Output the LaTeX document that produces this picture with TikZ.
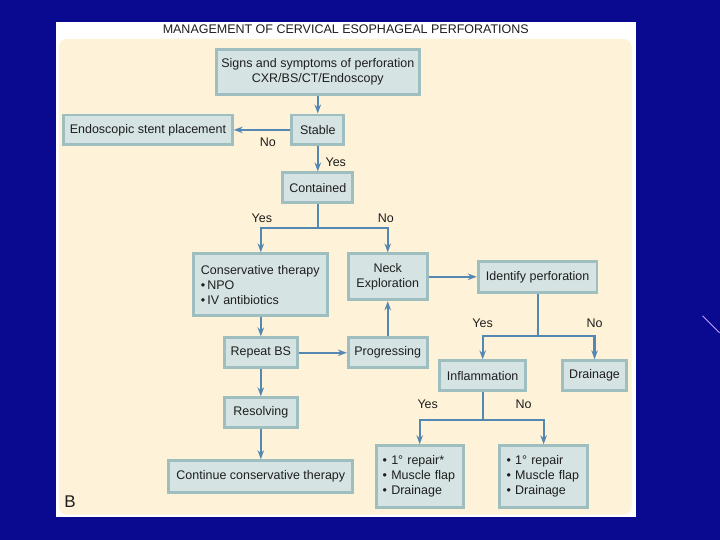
\documentclass[tikz,border=0pt]{standalone}
\usepackage{fontspec}
\setmainfont{Liberation Sans}
\usetikzlibrary{arrows.meta}

\definecolor{slideblue}{RGB}{10,10,145}
\definecolor{cream}{RGB}{254,242,216}
\definecolor{boxfill}{RGB}{214,227,227}
\definecolor{boxedge}{RGB}{158,190,191}
\definecolor{flow}{RGB}{84,136,178}
\definecolor{ink}{RGB}{30,30,30}
\definecolor{streak}{RGB}{200,160,255}

\begin{document}
\begin{tikzpicture}[x=1pt,y=1pt]
    \tikzstyle{every node}+=[font=\fontsize{12.5}{15}\selectfont, text=ink]
    \tikzstyle{box}=[draw=boxedge, line width=2.8pt, fill=boxfill, inner sep=2pt]
    \tikzstyle{flowline}=[draw=flow, line width=2.2pt]
    \tikzstyle{flowarrow}=[flowline, -{Stealth[length=9pt,width=6.5pt]}]
    \tikzstyle{lbl}=[inner sep=0pt]
    % slide and panel
    \fill [slideblue] (0,0) rectangle (720,-540);
    \fill [white] (56,-22) rectangle (636,-517);
    \fill [cream, rounded corners=8pt] (59,-39) rectangle (632,-515);
    \draw [streak, line width=1pt] (703,-316) -- (720,-333);
    \node (title) at (346,-29) {MANAGEMENT OF CERVICAL ESOPHAGEAL PERFORATIONS};
    \node (panelB) at (70,-502) [font=\fontsize{17}{17}\selectfont] {B};
    % boxes
    \node [box, minimum width=203pt, minimum height=45pt, align=center] (signs) at (318,-72) {Signs and symptoms of perforation\\CXR/BS/CT/Endoscopy};
    \node [box, minimum width=52pt, minimum height=30pt] (stable) at (318,-130) {Stable};
    \node [box, minimum width=169pt, minimum height=30pt] (stent) at (148,-130) {Endoscopic stent placement};
    \node [box, minimum width=70pt, minimum height=30pt] (contained) at (318,-188) {Contained};
    \node [box, minimum width=134pt, minimum height=62pt, text width=120pt, align=left] (conserv) at (261,-285) {Conservative therapy\\\textbullet\,NPO\\\textbullet\,IV antibiotics};
    \node [box, minimum width=79pt, minimum height=46pt, align=center] (neck) at (388,-277) {Neck\\Exploration};
    \node [box, minimum width=119pt, minimum height=31pt] (identify) at (538,-277) {Identify perforation};
    \node [box, minimum width=73pt, minimum height=30pt] (repeat) at (261,-353) {Repeat BS};
    \node [box, minimum width=79pt, minimum height=30pt] (progress) at (388,-353) {Progressing};
    \node [box, minimum width=86pt, minimum height=30pt] (inflam) at (483,-376) {Inflammation};
    \node [box, minimum width=64pt, minimum height=30pt] (drain) at (595,-376) {Drainage};
    \node [box, minimum width=73pt, minimum height=30pt] (resolve) at (261,-413) {Resolving};
    \node [box, minimum width=184pt, minimum height=32pt] (continue) at (261,-477) {Continue conservative therapy};
    \node [box, minimum width=87pt, minimum height=62pt, text width=74pt, align=left] (repairA) at (420,-477) {\textbullet\ 1\textdegree\ repair*\\\textbullet\ Muscle flap\\\textbullet\ Drainage};
    \node [box, minimum width=88pt, minimum height=62pt, text width=74pt, align=left] (repairB) at (544,-477) {\textbullet\ 1\textdegree\ repair\\\textbullet\ Muscle flap\\\textbullet\ Drainage};
    % split points
    \coordinate (splitA) at (318,-228);
    \coordinate (splitB) at (538,-336);
    \coordinate (splitC) at (483,-420);
    % connectors
    \draw [flowarrow] (signs) -- (stable);
    \draw [flowarrow] (stable) -- (stent);
    \draw [flowarrow] (stable) -- (contained);
    \draw [flowline] (contained) -- (splitA);
    \draw [flowarrow] (splitA) -| (conserv);
    \draw [flowarrow] (splitA) -| (neck);
    \draw [flowarrow] (neck) -- (identify);
    \draw [flowarrow] (conserv.south -| repeat) -- (repeat);
    \draw [flowarrow] (repeat) -- (progress);
    \draw [flowarrow] (progress) -- (neck);
    \draw [flowarrow] (repeat) -- (resolve);
    \draw [flowarrow] (resolve) -- (continue);
    \draw [flowline] (identify) -- (splitB);
    \draw [flowarrow] (splitB) -| (inflam);
    \draw [flowarrow] (splitB) -| (drain);
    \draw [flowline] (inflam) -- (splitC);
    \draw [flowarrow] (splitC) -| (repairA);
    \draw [flowarrow] (splitC) -| (repairB);
    % labels
    \node [lbl] (noStent) at (268,-142) {No};
    \node [lbl] (yesStable) at (336,-162) {Yes};
    \node [lbl] (yesCont) at (262,-218) {Yes};
    \node [lbl] (noCont) at (386,-218) {No};
    \node [lbl] (yesIdent) at (483,-323) {Yes};
    \node [lbl] (noIdent) at (595,-323) {No};
    \node [lbl] (yesInfl) at (428,-405) {Yes};
    \node [lbl] (noInfl) at (524,-405) {No};
\end{tikzpicture}
\end{document}
